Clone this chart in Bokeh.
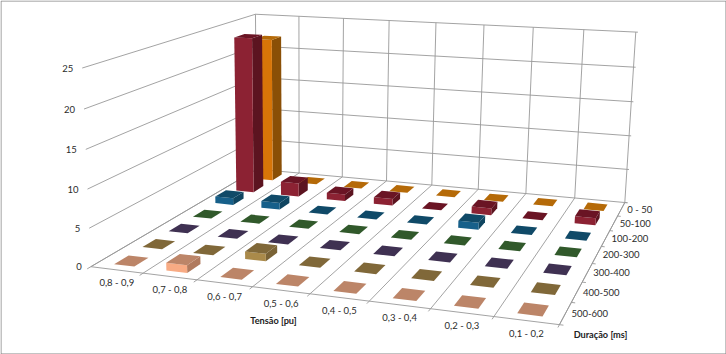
from bokeh.plotting import figure
from bokeh.models import Range1d
from bokeh.core.properties import value
from bokeh.embed import file_html
from bokeh.resources import INLINE
import numpy as np

# ---- data ----
categories = ["0,8 - 0,9", "0,7 - 0,8", "0,6 - 0,7", "0,5 - 0,6", "0,4 - 0,5", "0,3 - 0,4", "0,2 - 0,3", "0,1 - 0,2"]
durations = ["0 - 50", "50-100", "100-200", "200-300", "300-400", "400-500", "500-600"]
value_ticks = [0, 5, 10, 15, 20, 25]
v_0_50 = [22, 0, 0, 0, 0, 0, 0, 0]
v_50_100 = [23.3, 2, 1, 1, 0, 1, 0, 1]
v_100_200 = [1, 1, 0, 0, 0, 1, 0, 0]
v_200_300 = [0, 0, 0, 0, 0, 0, 0, 0]
v_300_400 = [0, 0, 0, 0, 0, 0, 0, 0]
v_400_500 = [0, 0, 1, 0, 0, 0, 0, 0]
v_500_600 = [0, 1, 0, 0, 0, 0, 0, 0]
rows = [v_0_50, v_50_100, v_100_200, v_200_300, v_300_400, v_400_500, v_500_600]

# (top, front, side) colours per series
palette = [
    ("#B56A08", "#D87508", "#8A4F06"),
    ("#6A1424", "#8C2233", "#5C1420"),
    ("#104A68", "#17608A", "#0F4560"),
    ("#31592B", "#3F7236", "#2A4C25"),
    ("#3F3152", "#524069", "#352A46"),
    ("#806839", "#AA8A4A", "#7A6336"),
    ("#BC8568", "#F8AB84", "#B07A5E"),
]

# ---- projection of the chart box (cat 0..8, depth 0..7 from back, value 0..25) ----
refs = [((0, 7, 0), (92, 265)), ((0, 7, 25), (80, 68)),
        ((0, 0, 0), (254.5, 170)), ((0, 0, 25), (257, 13)),
        ((8, 0, 0), (625, 201)), ((8, 0, 25), (634.5, 32)),
        ((8, 7, 0), (559, 325))]
A, b = [], []
for (X, Y, Z), (u, v) in refs:
    A.append([X, Y, Z, 1, 0, 0, 0, 0, -u * X, -u * Y, -u * Z]); b.append(u)
    A.append([0, 0, 0, 0, X, Y, Z, 1, -v * X, -v * Y, -v * Z]); b.append(v)
M = np.append(np.linalg.lstsq(np.array(A, float), np.array(b, float), rcond=None)[0], 1).reshape(3, 4)


def proj(c, s, z):
    h = M @ np.array([c, s, z, 1.0])
    return h[0] / h[2], h[1] / h[2]


p = figure(width=726, height=354, x_range=Range1d(0, 726), y_range=Range1d(354, 0),
           output_backend="svg", toolbar_location=None, min_border=0,
           background_fill_color="white", border_fill_color="white",
           outline_line_color=None)
p.axis.visible = False
p.grid.visible = False

GRID = "#999999"
xs, ys = [], []


def seg(a, b):
    pa, pb = proj(*a), proj(*b)
    xs.append([pa[0], pb[0]]); ys.append([pa[1], pb[1]])


n, m = len(categories), len(durations)
zmax = value_ticks[-1]
for z in value_ticks:
    seg((0, m, z), (0, 0, z))
    seg((0, 0, z), (n + 0.04, 0, z))
for c in range(n + 1):
    seg((c, 0, 0), (c, 0, zmax))
    seg((c, 0, 0), (c, m + 0.12, 0))
seg((0, m, 0), (n, m, 0))
for s in range(m + 1):
    seg((n, s, 0), (n + 0.06, s, 0))
seg((n, 0, 0), (n, m, 0))
p.multi_line(xs, ys, line_color=GRID, line_width=0.9)

# frame
p.multi_line([[0.5, 725.5, 725.5, 0.5, 0.5]], [[0.5, 0.5, 353.5, 353.5, 0.5]], line_color="#868686", line_width=1)

# ---- bars, back to front ----
W, D = 0.39, 0.5
for s, row in enumerate(rows):
    top_c, front_c, side_c = palette[s]
    for c, val in enumerate(row):
        x0, x1 = c + (1 - W) / 2, c + (1 + W) / 2
        y0, y1 = s + (1 - D) / 2, s + (1 + D) / 2
        faces = []
        if val > 0:
            faces.append(([(x1, y0, 0), (x1, y1, 0), (x1, y1, val), (x1, y0, val)], side_c))
            faces.append(([(x0, y1, 0), (x1, y1, 0), (x1, y1, val), (x0, y1, val)], front_c))
        faces.append(([(x0, y0, val), (x1, y0, val), (x1, y1, val), (x0, y1, val)], top_c))
        for pts, col in faces:
            pr = [proj(*q) for q in pts]
            p.patch([q[0] for q in pr], [q[1] for q in pr], fill_color=col, line_color=None)

# ---- labels ----
FONT = value("Lato")
TXT = "#2B2B2B"
for c, lab in enumerate(categories):
    u, v = proj(c + 0.5, m, 0)
    p.text([u], [v + 13], text=[lab], text_font=FONT, text_font_size="9.5px", text_color=TXT,
           text_align="center", text_baseline="middle")
for s, lab in enumerate(durations):
    u, v = proj(n, s + 0.5, 0)
    p.text([u + 6], [v], text=[lab], text_font=FONT, text_font_size="9.5px", text_color=TXT,
           text_align="left", text_baseline="middle")
for z in value_ticks:
    u, v = proj(0, m, z)
    p.text([u - 9], [v], text=[str(z)], text_font=FONT, text_font_size="9.5px", text_color=TXT,
           text_align="right", text_baseline="middle")
p.text([273], [320], text=["Tensão [pu]"], text_font=FONT, text_font_size="9.2px", text_font_style="bold",
       text_color="#222222", text_align="center", text_baseline="middle")
p.text([600], [333.5], text=["Duração [ms]"], text_font=FONT, text_font_size="9.2px", text_font_style="bold",
       text_color="#222222", text_align="center", text_baseline="middle")

open("out.html", "w").write(file_html(p, INLINE))
